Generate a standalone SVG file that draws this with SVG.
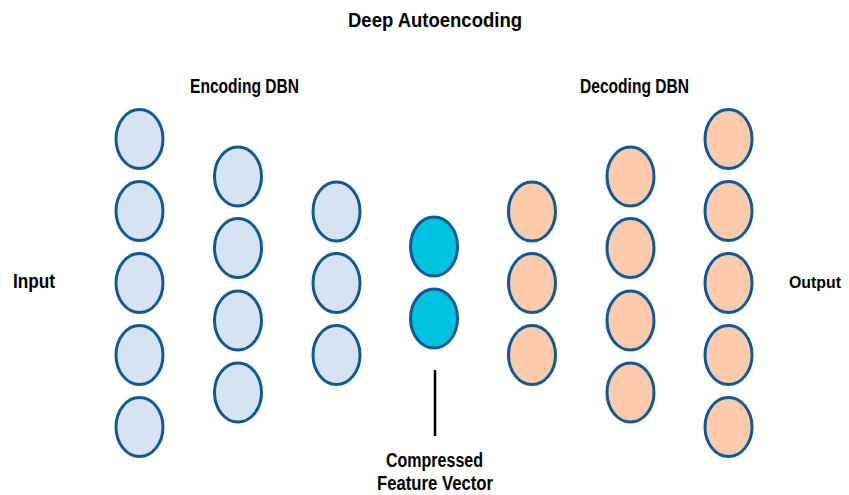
<svg xmlns="http://www.w3.org/2000/svg" width="849" height="495" viewBox="0 0 849 495">
<style>
  .lbl { font-family: "Liberation Sans", Arial, sans-serif; font-weight: bold; font-size: 20px; fill: #000; text-anchor: middle; }
  .n { stroke: #0F5A96; stroke-width: 3; }
  .enc { fill: #D6E3F2; }
  .mid { fill: #00C3E0; }
  .dec { fill: #FDCBAC; }
</style>
<rect width="849" height="495" fill="#fff"/>
<text class="lbl" x="435" y="27" textLength="174" lengthAdjust="spacingAndGlyphs">Deep Autoencoding</text>
<text class="lbl" x="244.5" y="93" textLength="109" lengthAdjust="spacingAndGlyphs">Encoding DBN</text>
<text class="lbl" x="634.5" y="93" textLength="109" lengthAdjust="spacingAndGlyphs">Decoding DBN</text>
<text class="lbl" x="34" y="288" textLength="42" lengthAdjust="spacingAndGlyphs">Input</text>
<text class="lbl" x="815" y="288" style="font-size:17px" textLength="52" lengthAdjust="spacingAndGlyphs">Output</text>
<text class="lbl" x="434.5" y="467" textLength="97" lengthAdjust="spacingAndGlyphs">Compressed</text>
<text class="lbl" x="435" y="490" textLength="116" lengthAdjust="spacingAndGlyphs">Feature Vector</text>
<g id="connectors">
  <line x1="435" y1="370" x2="435" y2="436" stroke="#000" stroke-width="2.5"/>
</g>
<g id="enc1">
  <ellipse class="n enc" cx="139.5" cy="139" rx="23.5" ry="29.5"/>
  <ellipse class="n enc" cx="139.5" cy="211" rx="23.5" ry="29.5"/>
  <ellipse class="n enc" cx="139.5" cy="283" rx="23.5" ry="29.5"/>
  <ellipse class="n enc" cx="139.5" cy="355" rx="23.5" ry="29.5"/>
  <ellipse class="n enc" cx="139.5" cy="427" rx="23.5" ry="29.5"/>
</g>
<g id="enc2">
  <ellipse class="n enc" cx="238" cy="176.5" rx="23.5" ry="29.5"/>
  <ellipse class="n enc" cx="238" cy="248" rx="23.5" ry="29.5"/>
  <ellipse class="n enc" cx="238" cy="320.5" rx="23.5" ry="29.5"/>
  <ellipse class="n enc" cx="238" cy="392.5" rx="23.5" ry="29.5"/>
</g>
<g id="enc3">
  <ellipse class="n enc" cx="336.5" cy="211.5" rx="23.5" ry="29.5"/>
  <ellipse class="n enc" cx="336.5" cy="283" rx="23.5" ry="29.5"/>
  <ellipse class="n enc" cx="336.5" cy="355" rx="23.5" ry="29.5"/>
</g>
<g id="code">
  <ellipse class="n mid" cx="434" cy="246.5" rx="23.5" ry="29.5"/>
  <ellipse class="n mid" cx="434" cy="318.5" rx="23.5" ry="29.5"/>
</g>
<g id="dec1">
  <ellipse class="n dec" cx="532" cy="211.5" rx="23.5" ry="29.5"/>
  <ellipse class="n dec" cx="532" cy="283" rx="23.5" ry="29.5"/>
  <ellipse class="n dec" cx="532" cy="355" rx="23.5" ry="29.5"/>
</g>
<g id="dec2">
  <ellipse class="n dec" cx="630.5" cy="176.5" rx="23.5" ry="29.5"/>
  <ellipse class="n dec" cx="630.5" cy="248" rx="23.5" ry="29.5"/>
  <ellipse class="n dec" cx="630.5" cy="320.5" rx="23.5" ry="29.5"/>
  <ellipse class="n dec" cx="630.5" cy="392.5" rx="23.5" ry="29.5"/>
</g>
<g id="dec3">
  <ellipse class="n dec" cx="728.5" cy="139" rx="23.5" ry="29.5"/>
  <ellipse class="n dec" cx="728.5" cy="211" rx="23.5" ry="29.5"/>
  <ellipse class="n dec" cx="728.5" cy="283" rx="23.5" ry="29.5"/>
  <ellipse class="n dec" cx="728.5" cy="355" rx="23.5" ry="29.5"/>
  <ellipse class="n dec" cx="728.5" cy="427" rx="23.5" ry="29.5"/>
</g>
</svg>
